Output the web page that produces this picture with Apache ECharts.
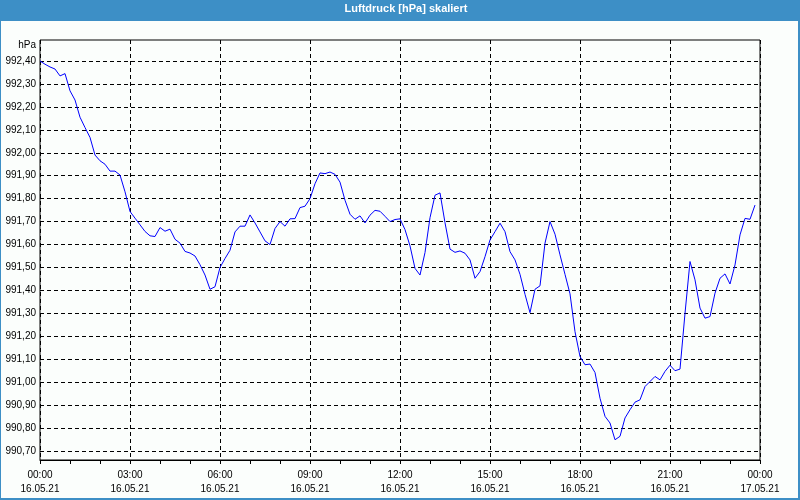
<!DOCTYPE html>
<html>
<head>
<meta charset="utf-8">
<script src="https://cdn.jsdelivr.net/npm/echarts@6/dist/echarts.min.js"></script>
<style>
html,body{margin:0;padding:0;background:#fbfefc;}
#c{width:800px;height:500px;}
</style>
</head>
<body>
<div id="c"></div>
<script>
// Chart title and axis text
const chartTitle = 'Luftdruck [hPa] skaliert';
const unitLabel = 'hPa';
const startDay = '16.05.21';
const endDay = '17.05.21';
// Sampling: one reading every 10 minutes starting 16.05.21 00:00 (hours)
const stepHours = 10 / 60;
// Air pressure readings [hPa]
const pressure = [
  992.40, 992.386, 992.374, 992.365, 992.335, 992.345, 992.27, 992.23, 992.155, 992.11,
  992.067, 991.99, 991.965, 991.95, 991.92, 991.92, 991.903, 991.83, 991.744, 991.715,
  991.686, 991.657, 991.638, 991.635, 991.674, 991.658, 991.667, 991.623, 991.606, 991.57,
  991.563, 991.55, 991.512, 991.467, 991.405, 991.416, 991.50, 991.539, 991.575, 991.655,
  991.68, 991.68, 991.729, 991.694, 991.655, 991.616, 991.60, 991.67, 991.70, 991.68,
  991.712, 991.713, 991.761, 991.767, 991.80, 991.865, 991.912, 991.909, 991.916, 991.906,
  991.872, 991.793, 991.732, 991.71, 991.725, 991.694, 991.728, 991.749, 991.745, 991.723,
  991.70, 991.709, 991.712, 991.665, 991.594, 991.496, 991.467, 991.565, 991.717, 991.815,
  991.825, 991.695, 991.58, 991.566, 991.572, 991.562, 991.533, 991.453, 991.482, 991.547,
  991.62, 991.656, 991.693, 991.656, 991.569, 991.533, 991.47, 991.383, 991.303, 991.405,
  991.42, 991.606, 991.70, 991.645, 991.555, 991.47, 991.385, 991.22, 991.112, 991.076,
  991.079, 991.042, 990.93, 990.851, 990.822, 990.749, 990.764, 990.844, 990.88, 990.913,
  990.923, 990.981, 991.003, 991.025, 991.01, 991.047, 991.074, 991.05, 991.057, 991.30,
  991.526, 991.446, 991.323, 991.279, 991.286, 991.388, 991.453, 991.472, 991.428, 991.511,
  991.642, 991.714, 991.71, 991.772
];
// Axis ranges / ticks
const yMin = 990.70, yMax = 992.40, yStep = 0.10;
const xMin = 0, xMax = 24, xStep = 3;

const seriesData = pressure.map((v, i) => [i * stepHours, v]);
const fontFam = '"Liberation Sans", Arial, sans-serif';
const dash = [4, 3];
const frameBlue = '#3d8fc6';

const chart = echarts.init(document.getElementById('c'), null, {renderer: 'canvas'});
chart.setOption({
  animation: false,
  backgroundColor: '#fbfefc',
  graphic: [
    {type: 'rect', shape: {x: 0, y: 0, width: 800, height: 21}, style: {fill: frameBlue}, z: 0},
    {type: 'rect', shape: {x: 0, y: 0, width: 1, height: 500}, style: {fill: frameBlue}, z: 0},
    {type: 'rect', shape: {x: 798, y: 0, width: 2, height: 500}, style: {fill: frameBlue}, z: 0},
    {type: 'rect', shape: {x: 0, y: 498, width: 800, height: 2}, style: {fill: frameBlue}, z: 0},
    {type: 'text', x: 406, y: 9, style: {text: chartTitle, fill: '#ffffff', font: 'bold 11px ' + fontFam, align: 'center', verticalAlign: 'middle'}, z: 10},
    {type: 'text', x: 36, y: 45, style: {text: unitLabel, fill: '#000', font: '10px ' + fontFam, align: 'right', verticalAlign: 'middle'}, z: 10}
  ],
  grid: [
    {left: 40, right: 40, top: 61, bottom: 49, show: false},
    {left: 40, right: 40, top: 40, bottom: 40, show: true, borderColor: '#000', borderWidth: 1, backgroundColor: 'transparent'}
  ],
  xAxis: [
    {type: 'value', gridIndex: 0, min: xMin, max: xMax, interval: xStep, show: false},
    {
      type: 'value', gridIndex: 1, min: xMin, max: xMax, interval: xStep,
      axisLine: {show: true, lineStyle: {color: '#000', width: 1}},
      axisTick: {show: true, length: 4, lineStyle: {color: '#000'}},
      minorTick: {show: true, splitNumber: 3, length: 4, lineStyle: {color: '#000'}},
      splitLine: {show: true, lineStyle: {color: '#000', type: dash, width: 1}},
      axisLabel: {
        margin: 8, color: '#000', fontSize: 10, fontFamily: fontFam, lineHeight: 14,
        formatter: function (h) {
          const hh = (h % 24);
          const day = h < 24 ? startDay : endDay;
          return (hh < 10 ? '0' : '') + hh + ':00\n' + day;
        }
      }
    }
  ],
  yAxis: [
    {
      type: 'value', gridIndex: 0, min: yMin, max: yMax, interval: yStep,
      axisLine: {show: false}, axisTick: {show: false},
      splitLine: {show: true, lineStyle: {color: '#000', type: dash, width: 1}},
      axisLabel: {
        margin: 4, color: '#000', fontSize: 10, fontFamily: fontFam,
        formatter: v => v.toFixed(2).replace('.', ',')
      }
    },
    {type: 'value', gridIndex: 1, min: 0, max: 1, show: false}
  ],
  series: [{
    type: 'line', xAxisIndex: 0, yAxisIndex: 0, data: seriesData,
    showSymbol: false, clip: false, smooth: false,
    lineStyle: {color: '#0000ff', width: 1}, z: 5
  }]
});
</script>
</body>
</html>
